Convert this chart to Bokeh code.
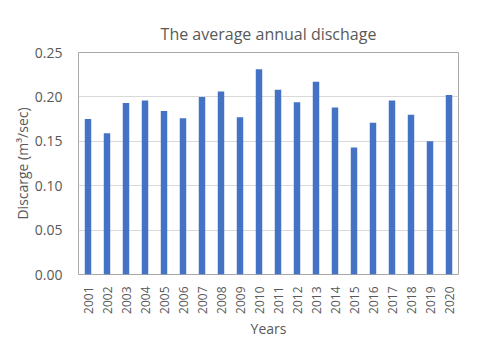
from bokeh.plotting import figure
from bokeh.models import ColumnDataSource, FactorRange, Range1d, FixedTicker, CustomJSTickFormatter
from bokeh.embed import file_html
from bokeh.resources import INLINE

years = [str(y) for y in range(2001, 2021)]
discharge = [0.175, 0.159, 0.193, 0.196, 0.184, 0.176, 0.200, 0.206, 0.177, 0.231,
             0.208, 0.194, 0.217, 0.188, 0.143, 0.171, 0.196, 0.180, 0.150, 0.202]
y_ticks = [0.0, 0.05, 0.10, 0.15, 0.20, 0.25]

FONT = "Open Sans"
TXT = "#595959"

src = ColumnDataSource(dict(year=years, val=discharge))

p = figure(x_range=FactorRange(*years, range_padding=0), y_range=Range1d(0, 0.25),
           frame_width=380, frame_height=222,
           min_border_left=78, min_border_right=21, min_border_top=52, min_border_bottom=71,
           output_backend="svg", toolbar_location=None,
           title="The average annual dischage")

p.vbar(x="year", top="val", width=0.34, source=src, color="#4472C4", line_color=None)

p.title.align = "center"
p.title.text_font = FONT
p.title.text_font_size = "16px"
p.title.text_font_style = "normal"
p.title.text_color = TXT
p.title.standoff = 16

p.outline_line_color = "#a8a8a8"
p.outline_line_width = 1
p.background_fill_color = "white"
p.border_fill_color = "white"

p.xgrid.grid_line_color = None
p.ygrid.grid_line_color = "#d9d9d9"
p.ygrid.ticker = FixedTicker(ticks=y_ticks)

p.yaxis.ticker = FixedTicker(ticks=y_ticks)
p.yaxis.formatter = CustomJSTickFormatter(code="return tick.toFixed(2);")
p.yaxis.axis_label = "Discarge (m\u00b3/sec)"
p.xaxis.axis_label = "Years"

for ax in (p.xaxis, p.yaxis):
    ax.axis_line_color = None
    ax.major_tick_line_color = None
    ax.minor_tick_line_color = None
    ax.major_label_text_font = FONT
    ax.major_label_text_color = TXT
    ax.axis_label_text_font = FONT
    ax.axis_label_text_color = TXT
    ax.axis_label_text_font_style = "normal"
    ax.axis_label_text_font_size = "14px"

p.yaxis.major_label_text_font_size = "14px"
p.yaxis.major_label_standoff = 10
p.yaxis.axis_label_standoff = 0
p.xaxis.major_label_text_font_size = "12px"
p.xaxis.major_label_orientation = 1.5708
p.xaxis.major_label_standoff = 6
p.xaxis.axis_label_standoff = 2

open("out.html", "w").write(file_html(p, INLINE))
